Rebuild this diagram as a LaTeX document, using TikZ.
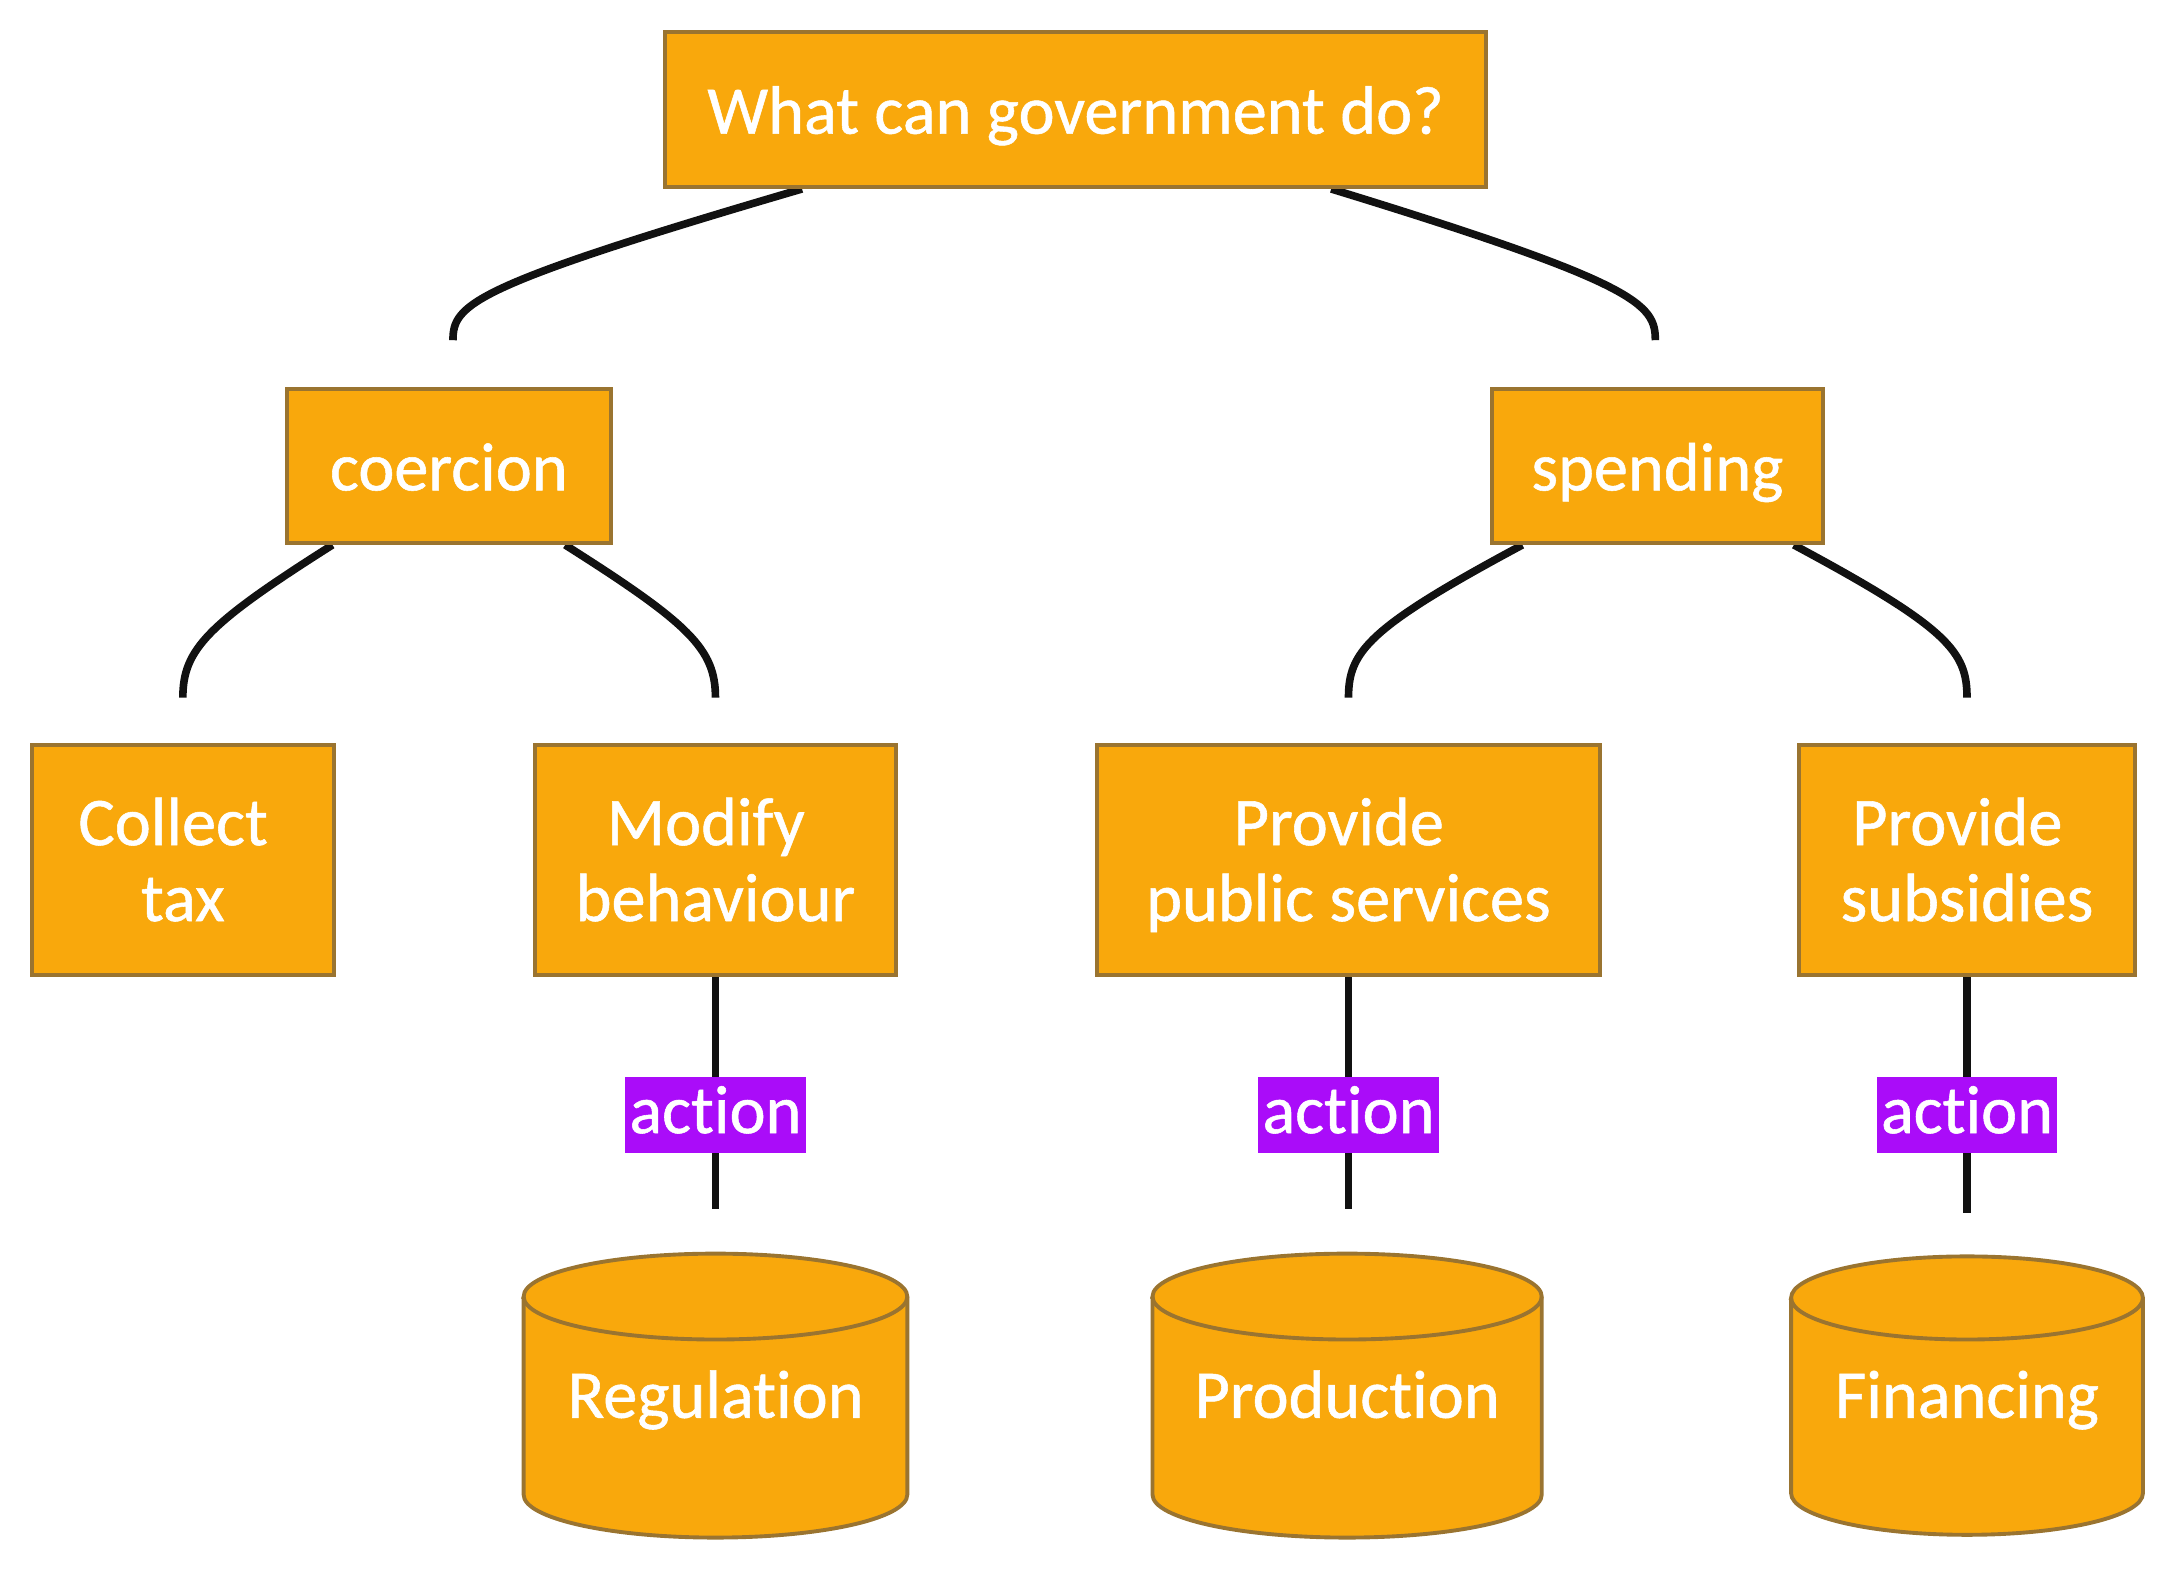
\documentclass[tikz,border=0pt]{standalone}
\usepackage{fontspec}
\setmainfont{Carlito}[Ligatures={NoCommon}, FakeBold=0.8]
\usetikzlibrary{calc,backgrounds}
\definecolor{boxfill}{HTML}{F9A80C}
\definecolor{boxline}{HTML}{9A7430}
\definecolor{lblfill}{HTML}{AA0CF9}
\definecolor{edgecol}{HTML}{111111}
\newcommand{\tsp}{\hspace*{14bp}}
\newcommand{\mystrut}{\rule[-10bp]{0pt}{55bp}}
\newcommand{\tallstrut}{\rule[-10bp]{0pt}{53bp}}
\newcommand{\lowstrut}{\rule[-10bp]{0pt}{10bp}}
\begin{document}
\begin{tikzpicture}[x=1bp,y=-1bp,
  txt/.style={text=white, font=\fontsize{49.5}{55}\selectfont},
  box/.style={txt, draw=boxline, fill=boxfill, line width=2.8bp,
    align=center, inner sep=0pt},
  cylbody/.style={draw=boxline, fill=boxfill, line width=2.8bp},
  cyltext/.style={txt, inner sep=0pt},
  lbl/.style={txt, fill=lblfill, inner sep=0pt,
    text height=36bp, text depth=10bp, minimum width=130bp, minimum height=55bp},
  edge/.style={draw=edgecol, line width=5.5bp},
]
\useasboundingbox (0,0) rectangle (1568,1132);

% rectangular nodes
\node[box, minimum width=593bp, minimum height=112bp] (top) at (776.5,79) {\mystrut What can government do?};
\node[box, minimum width=234bp, minimum height=111bp] (coer) at (324,336.5) {\mystrut coercion};
\node[box, minimum width=239bp, minimum height=111bp] (spend) at (1196.5,336.5) {\mystrut spending};
\node[box, minimum width=218bp, minimum height=166bp] (tax) at (132,621) {\tallstrut Collect\tsp\\tax\lowstrut};
\node[box, minimum width=261bp, minimum height=166bp] (mod) at (516.5,621) {\tallstrut Modify\tsp\\behaviour\lowstrut};
\node[box, minimum width=363bp, minimum height=166bp] (pub) at (973.5,621) {\tallstrut Provide\tsp\\public services\lowstrut};
\node[box, minimum width=242bp, minimum height=166bp] (sub) at (1420,621) {\tallstrut Provide\tsp\\subsidies\lowstrut};

% cylinders
\path[cylbody] (378,936) -- (378,1079)
  arc[start angle=180, end angle=360, x radius=138.5bp, y radius=31bp] -- (655,936)
  arc[start angle=0, end angle=180, x radius=138.5bp, y radius=31bp] -- cycle;
\draw[cylbody, fill=none] (378,936) arc[start angle=180, end angle=360, x radius=138.5bp, y radius=31bp];
\node[cyltext] (reg) at (516.5,1006) {\mystrut Regulation};

\path[cylbody] (832,936) -- (832,1079)
  arc[start angle=180, end angle=360, x radius=140.5bp, y radius=31bp] -- (1113,936)
  arc[start angle=0, end angle=180, x radius=140.5bp, y radius=31bp] -- cycle;
\draw[cylbody, fill=none] (832,936) arc[start angle=180, end angle=360, x radius=140.5bp, y radius=31bp];
\node[cyltext] (prod) at (972.5,1006) {\mystrut Production};

\path[cylbody] (1293,937) -- (1293,1078)
  arc[start angle=180, end angle=360, x radius=127bp, y radius=30bp] -- (1547,937)
  arc[start angle=0, end angle=180, x radius=127bp, y radius=30bp] -- cycle;
\draw[cylbody, fill=none] (1293,937) arc[start angle=180, end angle=360, x radius=127bp, y radius=30bp];
\node[cyltext] (fin) at (1420,1006) {\mystrut Financing};

% edge end coordinates
\coordinate (e1a) at ($(top.south)+(-197.5,0)$);
\coordinate (e1b) at ($(coer.north)+(3,-34)$);
\coordinate (e2a) at ($(top.south)+(184.5,0)$);
\coordinate (e2b) at ($(spend.north)+(-1.5,-34)$);
\coordinate (e3a) at ($(coer.south)+(-84,0)$);
\coordinate (e3b) at ($(tax.north)+(0,-33)$);
\coordinate (e4a) at ($(coer.south)+(84,0)$);
\coordinate (e4b) at ($(mod.north)+(0,-33)$);
\coordinate (e5a) at ($(spend.south)+(-97.5,0)$);
\coordinate (e5b) at ($(pub.north)+(0,-33)$);
\coordinate (e6a) at ($(spend.south)+(98.5,0)$);
\coordinate (e6b) at ($(sub.north)+(0,-33)$);
\coordinate (e7b) at (516.5,873);
\coordinate (e8b) at (973.5,873);
\coordinate (e9b) at (1420,876);

\begin{scope}[on background layer]
\draw[edge] (e1a) .. controls ($(e1a)+(-239,70)$) and ($(e1b)+(0,-26)$) .. (e1b);
\draw[edge] (e2a) .. controls ($(e2a)+(222,68)$) and ($(e2b)+(0,-26)$) .. (e2b);
\draw[edge] (e3a) .. controls ($(e3a)+(-90,57)$) and ($(e3b)+(0,-35)$) .. (e3b);
\draw[edge] (e4a) .. controls ($(e4a)+(90,57)$) and ($(e4b)+(0,-35)$) .. (e4b);
\draw[edge] (e5a) .. controls ($(e5a)+(-112,60)$) and ($(e5b)+(0,-33)$) .. (e5b);
\draw[edge] (e6a) .. controls ($(e6a)+(112,60)$) and ($(e6b)+(0,-33)$) .. (e6b);
\draw[edge] (mod.south) -- (e7b);
\draw[edge] (pub.south) -- (e8b);
\draw[edge] (sub.south) -- (e9b);
\end{scope}

% edge labels
\node[lbl] (l1) at (516.5,805) {action};
\node[lbl] (l2) at (973.5,805) {action};
\node[lbl] (l3) at (1420,805) {action};
\end{tikzpicture}
\end{document}
